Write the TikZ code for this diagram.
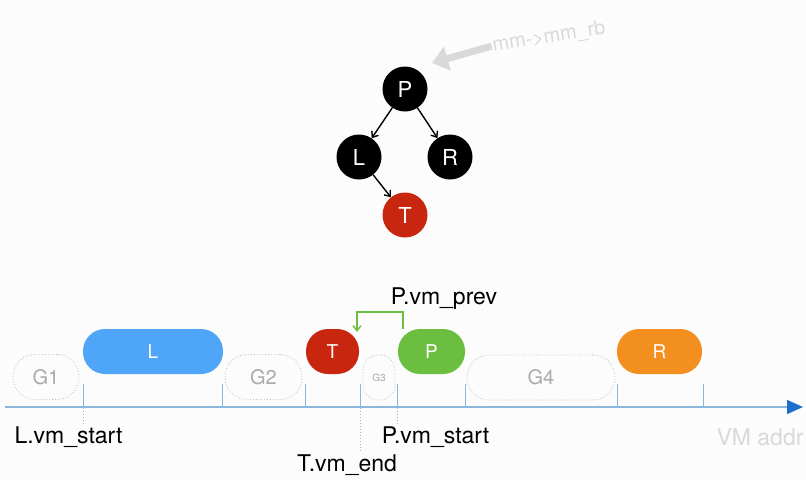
\documentclass[tikz,border=0pt]{standalone}
\usepackage{fontspec}
\setmainfont{TeX Gyre Heros}
\usetikzlibrary{arrows.meta}

\definecolor{blockblau}{RGB}{79,165,248}
\definecolor{blockrot}{RGB}{200,38,14}
\definecolor{blockgruen}{RGB}{108,190,64}
\definecolor{blockorange}{RGB}{242,143,30}
\definecolor{achsblau}{RGB}{140,182,218}
\definecolor{spitzblau}{RGB}{30,110,205}
\definecolor{lueckgrau}{RGB}{170,170,170}
\definecolor{hgrund}{RGB}{252,252,252}

\tikzset{
    baum/.style={circle, fill=black, text=white, minimum size=45pt, inner sep=0pt, font=\fontsize{22}{22}\selectfont},
    kante/.style={line width=1.4pt, -{Straight Barb[length=5pt,width=8pt]}},
    vma/.style={rounded corners=22pt, text=white, minimum height=45pt, inner sep=0pt, font=\fontsize{19}{19}\selectfont},
    luecke/.style={draw=lueckgrau!80, dotted, line width=0.8pt, rounded corners=22pt, text=lueckgrau, minimum height=45pt, inner sep=0pt, font=\fontsize{20}{20}\selectfont},
    marke/.style={achsblau, line width=0.8pt},
    hilfslinie/.style={achsblau, dotted, line width=1pt},
    beschr/.style={font=\fontsize{23}{23}\selectfont, inner sep=0pt}
}

\begin{document}
\begin{tikzpicture}[x=1pt,y=-1pt]
    % Hintergrund
    \fill[hgrund] (0,0) rectangle (806,480);
    \useasboundingbox (0,0) rectangle (806,480);

    % Baum
    \node[baum] (tP) at (405,89) {P};
    \node[baum] (tL) at (359,157) {L};
    \node[baum] (tR) at (450,157) {R};
    \node[baum, fill=blockrot] (tT) at (405,215) {T};
    \draw[kante] (tP) -- (tL);
    \draw[kante] (tP) -- (tR);
    \draw[kante] (tL) -- (tT);

    % mm->mm_rb
    \node[font=\fontsize{20}{20}\selectfont, text=black!15, rotate=9, inner sep=1pt] (rb) at (549,37) {mm->mm\_rb};
    \coordinate (rbspitze) at (432,63);
    \draw[black!15, line width=7pt, -{Triangle[length=16pt,width=24pt]}] (rb.west) -- (rbspitze);

    % Bereiche
    \node[vma, fill=blockblau, minimum width=140pt] (bL) at (153,351.5) {L};
    \node[vma, fill=blockrot, minimum width=53pt] (bT) at (332.5,351.5) {T};
    \node[vma, fill=blockgruen, minimum width=67pt] (bP) at (431.5,351.5) {P};
    \node[vma, fill=blockorange, minimum width=85pt] (bR) at (659.5,351.5) {R};

    % Luecken
    \node[luecke, minimum width=66pt] (g1) at (46,377) {G1};
    \node[luecke, minimum width=77pt] (g2) at (263.5,377) {G2};
    \node[luecke, minimum width=32pt, rounded corners=15pt, font=\fontsize{10}{10}\selectfont] (g3) at (379,377.5) {G3};
    \node[luecke, minimum width=148pt] (g4) at (541,377.5) {G4};

    % Achse
    \coordinate (a0) at (5,407);
    \coordinate (a1) at (803,407);
    \draw[achsblau, line width=1.4pt, -{Triangle[length=16pt,width=14pt,color=spitzblau]}] (a0) -- (a1);
    \foreach \x in {83,222,305,360,397,465,617,703} {
        \draw[marke] (\x,384) -- (\x,407);
    }
    \draw[hilfslinie] (83,408) -- (83,424);
    \draw[hilfslinie] (360,408) -- (360,451);
    \draw[hilfslinie] (397,408) -- (397,424);

    % Beschriftung
    \node[beschr] (lstart) at (68.5,437) {L.vm\_start};
    \node[beschr] (tend) at (347,465) {T.vm\_end};
    \node[beschr] (pstart) at (435.5,437) {P.vm\_start};
    \node[beschr] (pprev) at (444,299) {P.vm\_prev};
    \node[beschr, text=black!15] (addr) at (760,437) {VM addr};

    % vm_prev
    \coordinate (knick) at (380,312);
    \draw[blockgruen, line width=1.4pt, -{Straight Barb[length=5pt,width=8pt]}] ([xshift=-28.5pt]bP.north) |- (knick) -| ([xshift=24.5pt,yshift=-3pt]bT.north);
\end{tikzpicture}
\end{document}
